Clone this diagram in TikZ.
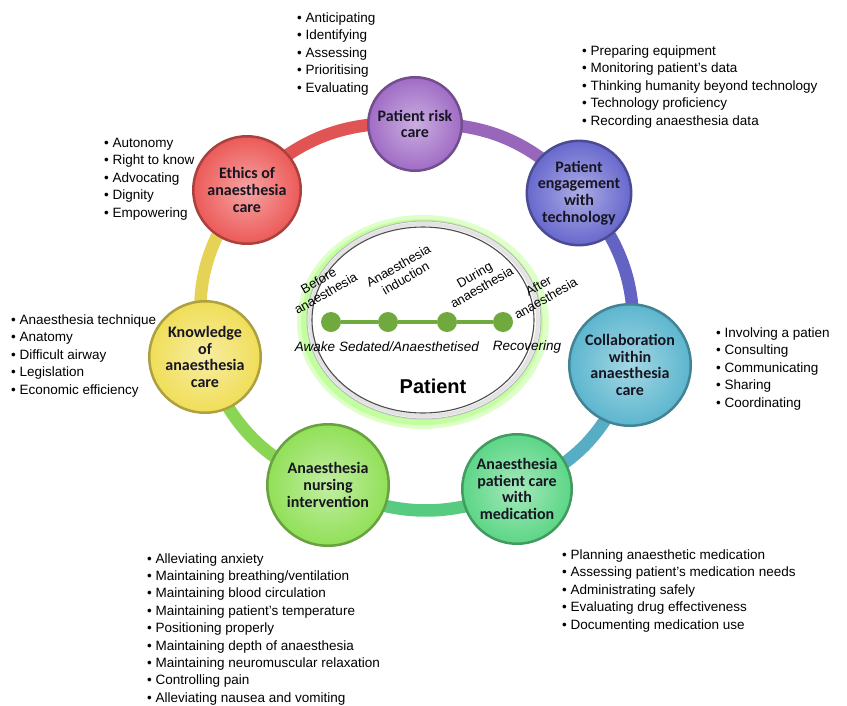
\documentclass[tikz,border=0pt]{standalone}
\usepackage{fontspec}
\setmainfont{Liberation Sans}
\newfontfamily\cbold{Carlito}
\usetikzlibrary{backgrounds}
\definecolor{cRed}{RGB}{236,90,88}
\definecolor{cPur}{RGB}{160,108,198}
\definecolor{cBlu}{RGB}{104,104,206}
\definecolor{cTeal}{RGB}{92,182,206}
\definecolor{cMed}{RGB}{92,214,134}
\definecolor{cNur}{RGB}{145,224,88}
\definecolor{cYel}{RGB}{240,222,88}
\definecolor{tlgreen}{RGB}{112,170,62}
\definecolor{labelc}{RGB}{22,22,34}
\tikzset{
  bubble/.style={circle, draw=#1!72!black, line width=2.5pt, inner color=#1!55!white, outer color=#1,
    text=labelc, font=\cbold\bfseries\fontsize{16}{16.8}\selectfont, align=center, inner sep=0pt},
  ringseg/.style={line width=12.5pt, draw=#1, bend left=25},
  lst/.style={anchor=north west, align=left, inner sep=0pt, font=\fontsize{13.5}{17.5}\selectfont},
  stage/.style={rotate=30, align=center, inner sep=0pt, font=\fontsize{13}{14.5}\selectfont},
  state/.style={inner sep=0pt, font=\itshape\fontsize{13.5}{15}\selectfont},
  tdot/.style={circle, fill=tlgreen, minimum size=20pt, inner sep=0pt}
}
\begin{document}
\begin{tikzpicture}[x=1pt,y=-1pt]
\useasboundingbox (0,0) rectangle (847,705);

% circles
\node[bubble=cPur,  minimum size=93.5pt]  (risk)   at (415,124) {Patient risk\\care};
\node[bubble=cBlu,  minimum size=101.5pt] (engage) at (579,193) {Patient\\engagement\\with\\technology};
\node[bubble=cTeal, minimum size=121.5pt] (collab) at (630,365) {Collaboration\\within\\anaesthesia\\care};
\node[bubble=cMed,  minimum size=109.5pt] (med)    at (517,489) {Anaesthesia\\patient care\\with\\medication};
\node[bubble=cNur,  minimum size=121.5pt] (nurs)   at (328,485) {Anaesthesia\\nursing\\intervention};
\node[bubble=cYel,  minimum size=111.5pt] (know)   at (205,357) {Knowledge\\of\\anaesthesia\\care};
\node[bubble=cRed,  minimum size=107.5pt] (ethics) at (247,190) {Ethics of\\anaesthesia\\care};

\begin{scope}[on background layer]
  \fill[white] (0,0) rectangle (847,705);
  \draw[ringseg=cRed!95!black]  (ethics.center) to (risk.center);
  \draw[ringseg=cPur!95!black]  (risk.center) to (engage.center);
  \draw[ringseg=cBlu!95!black]  (engage.center) to (collab.center);
  \draw[ringseg=cTeal!95!black] (collab.center) to (med.center);
  \draw[ringseg=cMed!95!black]  (med.center) to (nurs.center);
  \draw[ringseg=cNur!95!black]  (nurs.center) to (know.center);
  \draw[ringseg=cYel!95!black]  (know.center) to (ethics.center);
  % central glow
  \fill[green!45!lime!35!white, opacity=0.6] (423,322) ellipse [x radius=126pt, y radius=107pt];
  \fill[green!50!lime!45!white, opacity=0.7] (422,322) ellipse [x radius=121pt, y radius=103pt];
\end{scope}

% central ellipse
\filldraw[fill=white, draw=gray!55, line width=1pt] (424,320) ellipse [x radius=117pt, y radius=99pt];
\draw[gray!22, line width=4pt] (424,320) ellipse [x radius=114pt, y radius=96pt];
\draw[gray!60!black, line width=1.1pt] (423,320) ellipse [x radius=111pt, y radius=93pt];

% timeline
\node[tdot] (t1) at (331,322) {};
\node[tdot] (t2) at (388,322) {};
\node[tdot] (t3) at (447,322) {};
\node[tdot] (t4) at (503,322) {};
\draw[tlgreen, line width=3.5pt] (t1) -- (t2) -- (t3) -- (t4);

\node[stage] (s1) at (322,287) {Before\\anaesthesia};
\node[stage] (s2) at (402,272) {Anaesthesia\\induction};
\node[stage] (s3) at (478,281) {During\\anaesthesia};
\node[stage] (s4) at (542,292) {After\\anaesthesia};

\node[state] (a1) at (315,347) {Awake};
\node[state] (a2) at (409,347) {Sedated/Anaesthetised};
\node[state] (a3) at (527,347) {Recovering};

\node[inner sep=0pt, font=\bfseries\fontsize{20}{22}\selectfont] (pat) at (433,386) {Patient};

% lists
\node[lst] (l1) at (297,10) {\strut• Anticipating\\\strut• Identifying\\\strut• Assessing\\\strut• Prioritising\\\strut• Evaluating};
\node[lst] (l2) at (582,42.75) {\strut• Preparing equipment\\\strut• Monitoring patient’s data\\\strut• Thinking humanity beyond technology\\\strut• Technology proficiency\\\strut• Recording anaesthesia data};
\node[lst] (l3) at (104,134.75) {\strut• Autonomy\\\strut• Right to know\\\strut• Advocating\\\strut• Dignity\\\strut• Empowering};
\node[lst] (l4) at (11,311.75) {\strut• Anaesthesia technique\\\strut• Anatomy\\\strut• Difficult airway\\\strut• Legislation\\\strut• Economic efficiency};
\node[lst] (l5) at (716,324.75) {\strut• Involving a patien\\\strut• Consulting\\\strut• Communicating\\\strut• Sharing\\\strut• Coordinating};
\node[lst, font=\fontsize{13.5}{17.4}\selectfont] (l6) at (147,550.75) {\strut• Alleviating anxiety\\\strut• Maintaining breathing/ventilation\\\strut• Maintaining blood circulation\\\strut• Maintaining patient’s temperature\\\strut• Positioning properly\\\strut• Maintaining depth of anaesthesia\\\strut• Maintaining neuromuscular relaxation\\\strut• Controlling pain\\\strut• Alleviating nausea and vomiting};
\node[lst] (l7) at (562,546.75) {\strut• Planning anaesthetic medication\\\strut• Assessing patient’s medication needs\\\strut• Administrating safely\\\strut• Evaluating drug effectiveness\\\strut• Documenting medication use};
\end{tikzpicture}
\end{document}
